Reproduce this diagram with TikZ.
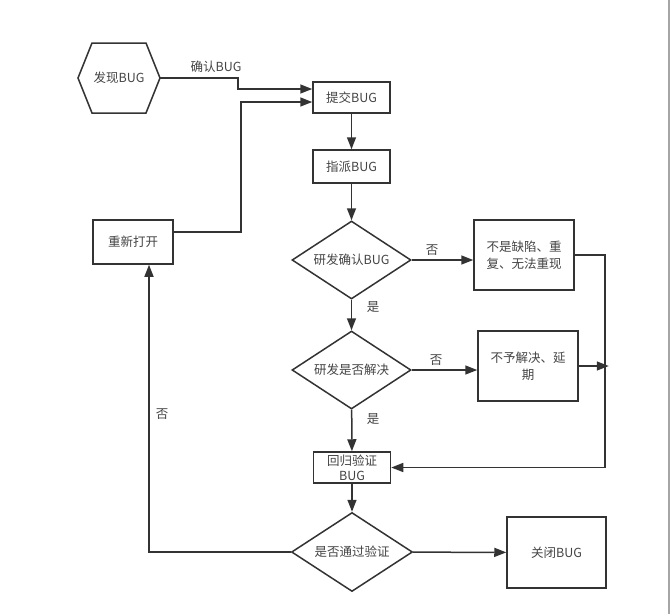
\documentclass[tikz,border=0pt]{standalone}
\usepackage{fontspec}
\newfontfamily\cjk{Noto Sans CJK SC}
\usetikzlibrary{shapes.geometric,arrows.meta}
\definecolor{linegray}{HTML}{333333}
\definecolor{textgray}{HTML}{444444}
\tikzset{
  stepbox/.style={draw=linegray, line width=1.5pt, rectangle, inner sep=1pt, align=center},
  decide/.style={draw=linegray, line width=1.5pt, diamond, aspect=1.5, inner sep=0pt, minimum width=119pt, minimum height=78pt},
  hexa/.style={rectangle, outer sep=0pt, minimum width=82pt, minimum height=70pt, inner sep=0pt},
  lbl/.style={text=textgray}
}
\begin{document}
\begin{tikzpicture}[x=1pt, y=-1pt, >={Triangle[length=12pt,width=9pt]}, line width=1.5pt, draw=linegray,
  every node/.style={font=\cjk\fontsize{12.5}{17}\selectfont, text=textgray}]
\useasboundingbox (0,0) rectangle (670,614);
\fill[white] (0,0) rectangle (670,614);
\draw[gray!70, line width=1.5pt] (669,0) -- (669,614);

\node[hexa] (find) at (119,78) {发现BUG};
\draw[draw=linegray] (find.west) -- ([xshift=14pt]find.north west) -- ([xshift=-14pt]find.north east)
  -- (find.east) -- ([xshift=-14pt]find.south east) -- ([xshift=14pt]find.south west) -- cycle;
\node[stepbox, minimum width=77pt, minimum height=31pt] (submit) at (351.5,97.5) {提交BUG};
\node[stepbox, minimum width=77pt, minimum height=33pt] (assign) at (351.5,166.5) {指派BUG};
\node[decide] (confirm) at (351.5,260) {研发确认BUG};
\node[stepbox, minimum width=100pt, minimum height=70pt] (notbug) at (524,255) {不是缺陷、重\\复、无法重现};
\node[decide] (solve) at (351.5,370) {研发是否解决};
\node[stepbox, minimum width=100pt, minimum height=70pt] (delay) at (528,366) {不予解决、延\\期};
\node[stepbox, minimum width=77pt, minimum height=31pt, inner sep=0pt, font=\cjk\fontsize{12.5}{15}\selectfont] (verify) at (352,467.5) {回归验证\\BUG};
\node[decide, minimum width=121pt, minimum height=79pt] (pass) at (352,552) {是否通过验证};
\node[stepbox, minimum width=99pt, minimum height=71pt] (close) at (556.5,552.5) {关闭BUG};
\node[stepbox, minimum width=80pt, minimum height=44pt] (reopen) at (133,242) {重新打开};

\draw[draw=linegray, ->] (find.east) -- (238,78) |- ([yshift=8.5pt]submit.west);
\node[lbl] (ok) at (216,67) {确认BUG};
\draw[draw=linegray, ->] ([yshift=10pt]reopen.east) -| (241,102) -- ([yshift=-4.5pt]submit.west);
\draw[draw=linegray, ->] (submit) -- (assign);
\draw[draw=linegray, ->] (assign) -- (confirm);
\draw[draw=linegray, ->] (confirm.east) -- (confirm.east -| notbug.west);
\node[lbl] (no1) at (432,250) {否};
\draw[draw=linegray, ->] (confirm) -- (solve);
\node[lbl] (yes1) at (373,307) {是};
\draw[draw=linegray, ->] (solve.east) -- (solve.east -| delay.west);
\node[lbl] (no2) at (436,360) {否};
\draw[draw=linegray, ->] (delay.east) -- ++(30,0);
\draw[draw=linegray, ->] (notbug.east) -- (605,255) |- (verify.east);
\draw[draw=linegray, ->] (solve) -- (verify);
\node[lbl] (yes2) at (373,419) {是};
\draw[draw=linegray, ->] (verify) -- (pass);
\draw[draw=linegray, ->] (pass) -- (close);
\draw[draw=linegray, ->] (pass.west) -| ([xshift=16pt]reopen.south);
\node[lbl] (no3) at (162,414) {否};
\end{tikzpicture}
\end{document}
